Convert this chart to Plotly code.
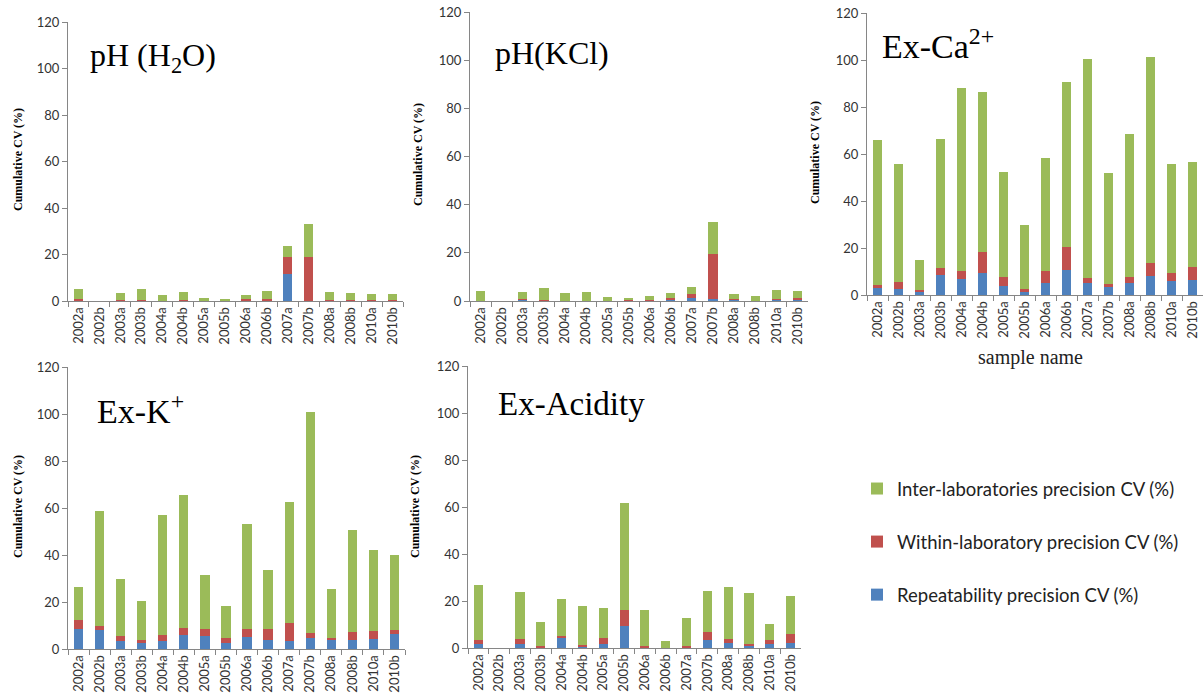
import plotly.graph_objects as go

categories = ["2002a", "2002b", "2003a", "2003b", "2004a", "2004b", "2005a", "2005b",
              "2006a", "2006b", "2007a", "2007b", "2008a", "2008b", "2010a", "2010b"]

series_names = ["Repeatability precision CV (%)",
                "Within-laboratory precision CV (%)",
                "Inter-laboratories precision CV (%)"]
series_colors = ["#4F81BD", "#C0504D", "#9BBB59"]

# stacked segment values (repeatability, within-lab, inter-lab) per panel
ph_h2o_rep = [0, 0, 0, 0, 0, 0, 0, 0, 0, 0, 11.7, 0, 0, 0, 0, 0]
ph_h2o_within = [1.0, 0, 0.6, 0.6, 0, 0.6, 0, 0, 1.0, 1.0, 7.3, 18.9, 0.6, 0.6, 0.6, 0.6]
ph_h2o_inter = [4.3, 0, 3.0, 4.7, 2.7, 3.4, 1.4, 1.0, 1.7, 3.4, 4.7, 14.1, 3.4, 3.0, 2.5, 2.5]

ph_kcl_rep = [0, 0, 0.5, 0, 0, 0, 0, 0, 0, 0.5, 1.3, 0.7, 0.5, 0, 0.5, 0.5]
ph_kcl_within = [0, 0, 0.3, 0.4, 0, 0, 0, 0.4, 0.4, 0.8, 1.6, 19.0, 0.3, 0, 0.3, 0.8]
ph_kcl_inter = [4.2, 0, 3.0, 5.1, 3.4, 3.8, 1.7, 0.9, 1.7, 2.1, 3.0, 13.3, 2.1, 2.1, 3.8, 2.9]

ca_rep = [3.0, 2.4, 1.4, 8.4, 6.7, 9.2, 3.8, 1.4, 5.0, 10.7, 5.0, 3.3, 5.0, 8.0, 5.8, 6.3]
ca_within = [1.1, 3.0, 0.6, 3.0, 3.4, 9.0, 3.7, 1.0, 5.1, 9.6, 2.1, 1.2, 2.5, 5.5, 3.4, 5.5]
ca_inter = [61.9, 50.3, 12.8, 55.0, 78.1, 68.2, 44.8, 27.3, 48.2, 70.4, 93.4, 47.4, 61.0, 87.9, 46.5, 44.8]

k_rep = [8.6, 8.2, 3.5, 2.7, 3.5, 6.1, 5.7, 2.7, 5.2, 4.0, 3.5, 4.8, 4.0, 4.0, 4.4, 6.5]
k_within = [3.9, 1.7, 2.2, 1.3, 2.6, 3.0, 2.9, 2.1, 3.4, 4.6, 7.7, 2.1, 0.8, 3.4, 3.4, 1.7]
k_inter = [14.0, 48.8, 24.2, 16.5, 50.9, 56.4, 23.0, 13.6, 44.6, 25.1, 51.3, 93.9, 20.8, 43.3, 34.4, 31.8]

acid_rep = [1.8, 0, 1.8, 0, 4.5, 0.7, 1.8, 9.5, 0, 0, 0, 3.6, 2.3, 0.7, 1.8, 2.3]
acid_within = [1.8, 0, 2.2, 0.7, 0.5, 0.7, 2.6, 6.8, 1.0, 0, 1.0, 3.4, 1.7, 1.1, 1.8, 3.8]
acid_inter = [23.4, 0, 20.0, 10.5, 16.0, 16.6, 12.8, 45.2, 15.3, 3.1, 11.9, 17.4, 22.1, 21.4, 6.8, 16.2]

panel_titles = ["pH (H<sub>2</sub>O)", "pH(KCl)", "Ex-Ca<sup>2+</sup>", "Ex-K<sup>+</sup>", "Ex-Acidity"]
panel_data = [
    (ph_h2o_rep, ph_h2o_within, ph_h2o_inter),
    (ph_kcl_rep, ph_kcl_within, ph_kcl_inter),
    (ca_rep, ca_within, ca_inter),
    (k_rep, k_within, k_inter),
    (acid_rep, acid_within, acid_inter),
]
y_ticks = [0, 20, 40, 60, 80, 100, 120]

W, H = 1204, 697
# pixel boxes (left, right, top, bottom) of each plot area
boxes = [(68, 403, 22, 301), (470, 808, 12, 301), (867, 1203, 13, 295),
         (68, 405, 367, 649), (468, 801, 366, 648)]
title_pos = [(88, 57), (493, 53), (880, 44), (95, 409), (496, 404)]
title_sizes = [32, 32, 34, 34, 33]
ytitle_pos = [(18, 160), (418, 155), (815, 153), (18, 507), (415, 507)]

fig = go.Figure()
annotations = []
layout = {}
axis_color = "#868686"
tick_font = dict(family="Lato, Open Sans, sans-serif", size=13, color="#333333")
legend_rank = [3, 2, 1]

for i, (vals, box) in enumerate(zip(panel_data, boxes)):
    n = "" if i == 0 else str(i + 1)
    for j in range(3):
        fig.add_trace(go.Bar(
            x=categories, y=vals[j], name=series_names[j],
            marker=dict(color=series_colors[j], line=dict(width=0)),
            xaxis="x" + n, yaxis="y" + n,
            legendgroup=series_names[j], legendrank=legend_rank[j],
            showlegend=(i == 0),
        ))
    l, r, t, b = box
    layout["xaxis" + n] = dict(
        domain=[l / W, r / W], anchor="y" + n, type="category", automargin=False,
        tickangle=-90, tickfont=tick_font, showline=True, linecolor=axis_color,
        ticks="outside", ticklen=5, tickcolor=axis_color, tickson="boundaries",
        showgrid=False, zeroline=False,
    )
    layout["yaxis" + n] = dict(
        domain=[1 - b / H, 1 - t / H], anchor="x" + n, range=[0, 120], automargin=False,
        tickvals=y_ticks, tickfont=tick_font, showline=True, linecolor=axis_color,
        ticks="outside", ticklen=5, tickcolor=axis_color, showgrid=False, zeroline=False,
    )
    tx, ty = title_pos[i]
    annotations.append(dict(
        text=panel_titles[i], x=tx / W, y=1 - ty / H, xref="paper", yref="paper",
        xanchor="left", yanchor="middle", showarrow=False,
        font=dict(family="Liberation Serif, Times New Roman, serif", size=title_sizes[i], color="black"),
    ))
    yx, yy = ytitle_pos[i]
    annotations.append(dict(
        text="<b>Cumulative CV (%)</b>", x=yx / W, y=1 - yy / H, xref="paper", yref="paper",
        xanchor="center", yanchor="middle", textangle=-90, showarrow=False,
        font=dict(family="Liberation Serif, Times New Roman, serif", size=12, color="black"),
    ))

annotations.append(dict(
    text="sample name", x=1030 / W, y=1 - 357 / H, xref="paper", yref="paper",
    xanchor="center", yanchor="middle", showarrow=False,
    font=dict(family="Liberation Serif, Times New Roman, serif", size=20, color="#222222"),
))

fig.update_layout(
    template="none",
    width=W, height=H, margin=dict(l=0, r=0, t=0, b=0, autoexpand=False),
    paper_bgcolor="white", plot_bgcolor="white",
    barmode="stack", bargap=0.56,
    showlegend=True,
    legend=dict(x=857 / W, y=1 - 470 / H, xanchor="left", yanchor="top",
                traceorder="grouped", tracegroupgap=26,
                font=dict(family="Lato, Open Sans, sans-serif", size=18.5, color="#222222"),
                bgcolor="rgba(0,0,0,0)"),
    annotations=annotations,
    **layout,
)

fig.write_html("out.html", config={"displayModeBar": False},
               post_script="document.body.style.margin='0';document.body.style.overflow='hidden';")
